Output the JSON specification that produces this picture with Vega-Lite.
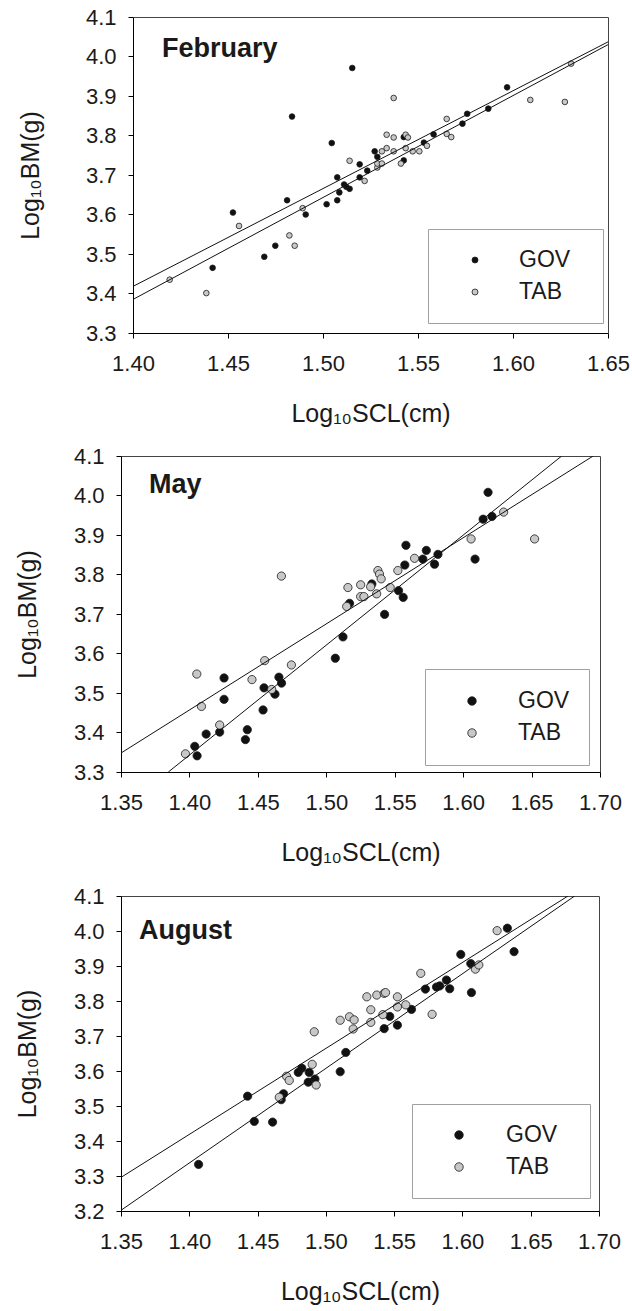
{
  "$schema": "https://vega.github.io/schema/vega-lite/v6.json",
  "padding": {"left": 14, "top": 6, "right": 0, "bottom": 0},
  "background": "white",
  "config": {
    "font": "Liberation Sans",
    "view": {"stroke": "#444444", "strokeWidth": 1},
    "axis": {"grid": false, "domainColor": "#000000", "tickColor": "#000000", "tickSize": 5, "labelFont": "Liberation Sans", "labelFontSize": 22, "labelColor": "#1a1a1a", "titleFont": "Liberation Sans", "titleFontSize": 25, "titleFontWeight": "normal", "titleColor": "#1a1a1a", "labelFlush": false, "labelOverlap": false, "labelBound": false, "tickCount": 30},
    "axisX": {"labelPadding": 15, "titlePadding": 27},
    "axisY": {"labelPadding": 12, "titlePadding": 33},
    "legend": {"title": null, "orient": "none", "strokeColor": "#a0a0a0", "fillColor": "white", "padding": 19, "symbolType": "circle", "symbolStrokeColor": "#1a1a1a", "symbolStrokeWidth": 0.8, "labelFont": "Liberation Sans", "labelFontSize": 23, "labelColor": "#1a1a1a", "clipHeight": 26, "rowPadding": 6}
  },
  "datasets": {
    "feb": [
      {"scl": 1.4419, "bm": 3.465, "group": "GOV"}, {"scl": 1.4526, "bm": 3.605, "group": "GOV"}, {"scl": 1.4691, "bm": 3.493, "group": "GOV"}, {"scl": 1.4749, "bm": 3.521, "group": "GOV"}, {"scl": 1.4811, "bm": 3.636, "group": "GOV"}, {"scl": 1.4837, "bm": 3.848, "group": "GOV"}, {"scl": 1.4909, "bm": 3.600, "group": "GOV"}, {"scl": 1.5019, "bm": 3.626, "group": "GOV"}, {"scl": 1.5046, "bm": 3.781, "group": "GOV"}, {"scl": 1.5075, "bm": 3.694, "group": "GOV"}, {"scl": 1.5075, "bm": 3.636, "group": "GOV"}, {"scl": 1.5086, "bm": 3.656, "group": "GOV"}, {"scl": 1.5111, "bm": 3.676, "group": "GOV"}, {"scl": 1.5123, "bm": 3.670, "group": "GOV"}, {"scl": 1.5140, "bm": 3.665, "group": "GOV"}, {"scl": 1.5154, "bm": 3.971, "group": "GOV"}, {"scl": 1.5193, "bm": 3.727, "group": "GOV"}, {"scl": 1.5193, "bm": 3.694, "group": "GOV"}, {"scl": 1.5233, "bm": 3.711, "group": "GOV"}, {"scl": 1.5272, "bm": 3.760, "group": "GOV"}, {"scl": 1.5286, "bm": 3.746, "group": "GOV"}, {"scl": 1.5425, "bm": 3.796, "group": "GOV"}, {"scl": 1.5425, "bm": 3.737, "group": "GOV"}, {"scl": 1.5531, "bm": 3.782, "group": "GOV"}, {"scl": 1.5582, "bm": 3.803, "group": "GOV"}, {"scl": 1.5734, "bm": 3.830, "group": "GOV"}, {"scl": 1.5759, "bm": 3.855, "group": "GOV"}, {"scl": 1.5870, "bm": 3.868, "group": "GOV"}, {"scl": 1.5969, "bm": 3.922, "group": "GOV"},
      {"scl": 1.4193, "bm": 3.435, "group": "TAB"}, {"scl": 1.4386, "bm": 3.401, "group": "TAB"}, {"scl": 1.4558, "bm": 3.571, "group": "TAB"}, {"scl": 1.4823, "bm": 3.547, "group": "TAB"}, {"scl": 1.4851, "bm": 3.521, "group": "TAB"}, {"scl": 1.4893, "bm": 3.616, "group": "TAB"}, {"scl": 1.5140, "bm": 3.736, "group": "TAB"}, {"scl": 1.5219, "bm": 3.685, "group": "TAB"}, {"scl": 1.5286, "bm": 3.719, "group": "TAB"}, {"scl": 1.5286, "bm": 3.729, "group": "TAB"}, {"scl": 1.5310, "bm": 3.760, "group": "TAB"}, {"scl": 1.5310, "bm": 3.729, "group": "TAB"}, {"scl": 1.5335, "bm": 3.802, "group": "TAB"}, {"scl": 1.5335, "bm": 3.768, "group": "TAB"}, {"scl": 1.5372, "bm": 3.895, "group": "TAB"}, {"scl": 1.5372, "bm": 3.795, "group": "TAB"}, {"scl": 1.5372, "bm": 3.760, "group": "TAB"}, {"scl": 1.5410, "bm": 3.729, "group": "TAB"}, {"scl": 1.5435, "bm": 3.802, "group": "TAB"}, {"scl": 1.5447, "bm": 3.795, "group": "TAB"}, {"scl": 1.5435, "bm": 3.768, "group": "TAB"}, {"scl": 1.5472, "bm": 3.760, "group": "TAB"}, {"scl": 1.5507, "bm": 3.760, "group": "TAB"}, {"scl": 1.5547, "bm": 3.774, "group": "TAB"}, {"scl": 1.5651, "bm": 3.842, "group": "TAB"}, {"scl": 1.5651, "bm": 3.804, "group": "TAB"}, {"scl": 1.5675, "bm": 3.796, "group": "TAB"}, {"scl": 1.6091, "bm": 3.890, "group": "TAB"}, {"scl": 1.6273, "bm": 3.885, "group": "TAB"}, {"scl": 1.6306, "bm": 3.982, "group": "TAB"}
    ],
    "febFit": [
      {"scl": 1.40, "bm": 3.418, "group": "GOV"}, {"scl": 1.65, "bm": 4.037, "group": "GOV"},
      {"scl": 1.40, "bm": 3.385, "group": "TAB"}, {"scl": 1.65, "bm": 4.030, "group": "TAB"}
    ],
    "may": [
      {"scl": 1.4039, "bm": 3.365, "group": "GOV"}, {"scl": 1.4056, "bm": 3.341, "group": "GOV"}, {"scl": 1.4122, "bm": 3.396, "group": "GOV"}, {"scl": 1.4221, "bm": 3.401, "group": "GOV"}, {"scl": 1.4253, "bm": 3.538, "group": "GOV"}, {"scl": 1.4253, "bm": 3.484, "group": "GOV"}, {"scl": 1.4409, "bm": 3.382, "group": "GOV"}, {"scl": 1.4423, "bm": 3.407, "group": "GOV"}, {"scl": 1.4538, "bm": 3.457, "group": "GOV"}, {"scl": 1.4545, "bm": 3.513, "group": "GOV"}, {"scl": 1.4625, "bm": 3.497, "group": "GOV"}, {"scl": 1.4654, "bm": 3.540, "group": "GOV"}, {"scl": 1.4673, "bm": 3.525, "group": "GOV"}, {"scl": 1.5066, "bm": 3.588, "group": "GOV"}, {"scl": 1.5122, "bm": 3.642, "group": "GOV"}, {"scl": 1.5170, "bm": 3.727, "group": "GOV"}, {"scl": 1.5333, "bm": 3.776, "group": "GOV"}, {"scl": 1.5426, "bm": 3.699, "group": "GOV"}, {"scl": 1.5528, "bm": 3.759, "group": "GOV"}, {"scl": 1.5562, "bm": 3.742, "group": "GOV"}, {"scl": 1.5574, "bm": 3.824, "group": "GOV"}, {"scl": 1.5582, "bm": 3.874, "group": "GOV"}, {"scl": 1.5706, "bm": 3.839, "group": "GOV"}, {"scl": 1.5731, "bm": 3.861, "group": "GOV"}, {"scl": 1.5791, "bm": 3.826, "group": "GOV"}, {"scl": 1.5816, "bm": 3.851, "group": "GOV"}, {"scl": 1.6087, "bm": 3.839, "group": "GOV"}, {"scl": 1.6146, "bm": 3.940, "group": "GOV"}, {"scl": 1.6182, "bm": 4.008, "group": "GOV"}, {"scl": 1.6211, "bm": 3.947, "group": "GOV"},
      {"scl": 1.3971, "bm": 3.346, "group": "TAB"}, {"scl": 1.4054, "bm": 3.548, "group": "TAB"}, {"scl": 1.4088, "bm": 3.466, "group": "TAB"}, {"scl": 1.4221, "bm": 3.419, "group": "TAB"}, {"scl": 1.4457, "bm": 3.534, "group": "TAB"}, {"scl": 1.4550, "bm": 3.582, "group": "TAB"}, {"scl": 1.4601, "bm": 3.509, "group": "TAB"}, {"scl": 1.4672, "bm": 3.796, "group": "TAB"}, {"scl": 1.4745, "bm": 3.571, "group": "TAB"}, {"scl": 1.5149, "bm": 3.719, "group": "TAB"}, {"scl": 1.5158, "bm": 3.767, "group": "TAB"}, {"scl": 1.5251, "bm": 3.774, "group": "TAB"}, {"scl": 1.5251, "bm": 3.744, "group": "TAB"}, {"scl": 1.5275, "bm": 3.744, "group": "TAB"}, {"scl": 1.5324, "bm": 3.769, "group": "TAB"}, {"scl": 1.5368, "bm": 3.751, "group": "TAB"}, {"scl": 1.5377, "bm": 3.810, "group": "TAB"}, {"scl": 1.5389, "bm": 3.801, "group": "TAB"}, {"scl": 1.5401, "bm": 3.789, "group": "TAB"}, {"scl": 1.5467, "bm": 3.767, "group": "TAB"}, {"scl": 1.5523, "bm": 3.810, "group": "TAB"}, {"scl": 1.5645, "bm": 3.841, "group": "TAB"}, {"scl": 1.6058, "bm": 3.890, "group": "TAB"}, {"scl": 1.6296, "bm": 3.958, "group": "TAB"}, {"scl": 1.6522, "bm": 3.890, "group": "TAB"}
    ],
    "mayFit": [
      {"scl": 1.3846, "bm": 3.300, "group": "GOV"}, {"scl": 1.6720, "bm": 4.100, "group": "GOV"},
      {"scl": 1.3500, "bm": 3.348, "group": "TAB"}, {"scl": 1.6950, "bm": 4.100, "group": "TAB"}
    ],
    "aug": [
      {"scl": 1.4068, "bm": 3.333, "group": "GOV"}, {"scl": 1.4427, "bm": 3.528, "group": "GOV"}, {"scl": 1.4476, "bm": 3.456, "group": "GOV"}, {"scl": 1.4610, "bm": 3.454, "group": "GOV"}, {"scl": 1.4673, "bm": 3.518, "group": "GOV"}, {"scl": 1.4690, "bm": 3.535, "group": "GOV"}, {"scl": 1.4798, "bm": 3.596, "group": "GOV"}, {"scl": 1.4824, "bm": 3.608, "group": "GOV"}, {"scl": 1.4878, "bm": 3.596, "group": "GOV"}, {"scl": 1.4871, "bm": 3.568, "group": "GOV"}, {"scl": 1.4920, "bm": 3.577, "group": "GOV"}, {"scl": 1.5105, "bm": 3.598, "group": "GOV"}, {"scl": 1.5146, "bm": 3.653, "group": "GOV"}, {"scl": 1.5427, "bm": 3.721, "group": "GOV"}, {"scl": 1.5468, "bm": 3.756, "group": "GOV"}, {"scl": 1.5524, "bm": 3.731, "group": "GOV"}, {"scl": 1.5627, "bm": 3.776, "group": "GOV"}, {"scl": 1.5729, "bm": 3.834, "group": "GOV"}, {"scl": 1.5810, "bm": 3.840, "group": "GOV"}, {"scl": 1.5834, "bm": 3.843, "group": "GOV"}, {"scl": 1.5883, "bm": 3.860, "group": "GOV"}, {"scl": 1.5907, "bm": 3.835, "group": "GOV"}, {"scl": 1.5988, "bm": 3.933, "group": "GOV"}, {"scl": 1.6061, "bm": 3.907, "group": "GOV"}, {"scl": 1.6066, "bm": 3.824, "group": "GOV"}, {"scl": 1.6329, "bm": 4.008, "group": "GOV"}, {"scl": 1.6378, "bm": 3.941, "group": "GOV"},
      {"scl": 1.4659, "bm": 3.525, "group": "TAB"}, {"scl": 1.4712, "bm": 3.585, "group": "TAB"}, {"scl": 1.4732, "bm": 3.573, "group": "TAB"}, {"scl": 1.4900, "bm": 3.619, "group": "TAB"}, {"scl": 1.4929, "bm": 3.560, "group": "TAB"}, {"scl": 1.4915, "bm": 3.712, "group": "TAB"}, {"scl": 1.5105, "bm": 3.745, "group": "TAB"}, {"scl": 1.5173, "bm": 3.755, "group": "TAB"}, {"scl": 1.5207, "bm": 3.746, "group": "TAB"}, {"scl": 1.5200, "bm": 3.720, "group": "TAB"}, {"scl": 1.5300, "bm": 3.812, "group": "TAB"}, {"scl": 1.5329, "bm": 3.775, "group": "TAB"}, {"scl": 1.5329, "bm": 3.739, "group": "TAB"}, {"scl": 1.5373, "bm": 3.817, "group": "TAB"}, {"scl": 1.5427, "bm": 3.822, "group": "TAB"}, {"scl": 1.5437, "bm": 3.824, "group": "TAB"}, {"scl": 1.5417, "bm": 3.761, "group": "TAB"}, {"scl": 1.5524, "bm": 3.812, "group": "TAB"}, {"scl": 1.5524, "bm": 3.783, "group": "TAB"}, {"scl": 1.5585, "bm": 3.789, "group": "TAB"}, {"scl": 1.5695, "bm": 3.879, "group": "TAB"}, {"scl": 1.5778, "bm": 3.762, "group": "TAB"}, {"scl": 1.6095, "bm": 3.891, "group": "TAB"}, {"scl": 1.6120, "bm": 3.903, "group": "TAB"}, {"scl": 1.6254, "bm": 4.001, "group": "TAB"}
    ],
    "augFit": [
      {"scl": 1.3500, "bm": 3.202, "group": "GOV"}, {"scl": 1.6822, "bm": 4.100, "group": "GOV"},
      {"scl": 1.3500, "bm": 3.296, "group": "TAB"}, {"scl": 1.6773, "bm": 4.100, "group": "TAB"}
    ]
  },
  "concat": [
    {
      "width": 487, "height": 316,
      "view": {"stroke": null},
      "resolve": {"axis": {"x": "independent", "y": "independent"}},
      "layer": [
        {
          "data": {"name": "feb"},
          "mark": {"type": "circle", "stroke": "#1a1a1a", "strokeWidth": 0.8, "opacity": 1, "size": 32},
          "encoding": {
            "x": {"field": "scl", "type": "quantitative", "scale": {"domain": [1.40, 1.65], "range": [12, 487], "nice": false, "zero": false}, "axis": {"values": [1.40, 1.45, 1.50, 1.55, 1.60, 1.65], "format": ".2f", "title": "Log₁₀SCL(cm)", "labelOverlap": false}},
            "y": {"field": "bm", "type": "quantitative", "scale": {"domain": [3.3, 4.1], "nice": false, "zero": false}, "axis": {"values": [3.3, 3.4, 3.5, 3.6, 3.7, 3.8, 3.9, 4.0, 4.1], "format": ".1f", "title": "Log₁₀BM(g)", "titlePadding": 42, "offset": -12, "labelOverlap": false, "tickCount": 30}},
            "fill": {"field": "group", "type": "nominal", "scale": {"domain": ["GOV", "TAB"], "range": ["#111111", "#c8c8c8"]}, "legend": {"legendX": 307, "legendY": 212, "symbolSize": 36, "padding": 15, "clipHeight": 32, "rowPadding": 0, "symbolOffset": 20.5, "labelOffset": 32.5, "labelExpr": "datum.label + '⠀'"}}
          }
        },
        {
          "data": {"name": "febFit"},
          "mark": {"type": "line", "color": "#111111", "strokeWidth": 1, "clip": true},
          "encoding": {
            "x": {"field": "scl", "type": "quantitative", "axis": {"orient": "top", "labels": false, "ticks": false, "title": null, "domainColor": "#444444"}},
            "y": {"field": "bm", "type": "quantitative", "axis": {"orient": "right", "labels": false, "ticks": false, "title": null, "domainColor": "#444444"}},
            "detail": {"field": "group", "type": "nominal"}
          }
        },
        {
          "data": {"values": [{"label": "February"}]},
          "mark": {"type": "text", "font": "Liberation Sans", "fontWeight": "bold", "fontSize": 27, "align": "left", "baseline": "alphabetic", "color": "#1a1a1a"},
          "encoding": {
            "x": {"datum": 1.4153, "type": "quantitative", "axis": null},
            "y": {"datum": 3.9987, "type": "quantitative", "axis": null},
            "text": {"field": "label"}
          }
        }
      ]
    },
    {
      "width": 479, "height": 316,
      "layer": [
        {
          "data": {"name": "may"},
          "mark": {"type": "circle", "stroke": "#1a1a1a", "strokeWidth": 0.8, "opacity": 1, "size": 68},
          "encoding": {
            "x": {"field": "scl", "type": "quantitative", "scale": {"domain": [1.35, 1.70], "nice": false, "zero": false}, "axis": {"values": [1.35, 1.40, 1.45, 1.50, 1.55, 1.60, 1.65, 1.70], "format": ".2f", "title": "Log₁₀SCL(cm)", "labelOverlap": false}},
            "y": {"field": "bm", "type": "quantitative", "scale": {"domain": [3.3, 4.1], "nice": false, "zero": false}, "axis": {"values": [3.3, 3.4, 3.5, 3.6, 3.7, 3.8, 3.9, 4.0, 4.1], "format": ".1f", "title": "Log₁₀BM(g)", "labelOverlap": false, "tickCount": 30}},
            "fill": {"field": "group", "type": "nominal", "scale": {"domain": ["GOV", "TAB"], "range": ["#111111", "#c8c8c8"]}, "legend": {"legendX": 304, "legendY": 213, "symbolSize": 72, "symbolOffset": 16.5, "labelOffset": 34.5}}
          }
        },
        {
          "data": {"name": "mayFit"},
          "mark": {"type": "line", "color": "#111111", "strokeWidth": 1, "clip": true},
          "encoding": {
            "x": {"field": "scl", "type": "quantitative"},
            "y": {"field": "bm", "type": "quantitative"},
            "detail": {"field": "group", "type": "nominal"}
          }
        },
        {
          "data": {"values": [{"label": "May"}]},
          "mark": {"type": "text", "font": "Liberation Sans", "fontWeight": "bold", "fontSize": 27, "align": "left", "baseline": "alphabetic", "color": "#1a1a1a"},
          "encoding": {
            "x": {"datum": 1.3705, "type": "quantitative"},
            "y": {"datum": 4.0063, "type": "quantitative"},
            "text": {"field": "label"}
          }
        }
      ]
    },
    {
      "width": 478, "height": 315,
      "layer": [
        {
          "data": {"name": "aug"},
          "mark": {"type": "circle", "stroke": "#1a1a1a", "strokeWidth": 0.8, "opacity": 1, "size": 68},
          "encoding": {
            "x": {"field": "scl", "type": "quantitative", "scale": {"domain": [1.35, 1.70], "nice": false, "zero": false}, "axis": {"values": [1.35, 1.40, 1.45, 1.50, 1.55, 1.60, 1.65, 1.70], "format": ".2f", "title": "Log₁₀SCL(cm)", "labelOverlap": false}},
            "y": {"field": "bm", "type": "quantitative", "scale": {"domain": [3.2, 4.1], "nice": false, "zero": false}, "axis": {"values": [3.2, 3.3, 3.4, 3.5, 3.6, 3.7, 3.8, 3.9, 4.0, 4.1], "format": ".1f", "title": "Log₁₀BM(g)", "labelOverlap": false, "tickCount": 30}},
            "fill": {"field": "group", "type": "nominal", "scale": {"domain": ["GOV", "TAB"], "range": ["#111111", "#c8c8c8"]}, "legend": {"legendX": 291, "legendY": 208, "symbolSize": 72, "padding": 15, "clipHeight": 32, "rowPadding": 0, "symbolOffset": 20.5, "labelOffset": 35.5, "labelExpr": "datum.label + '⠀'"}}
          }
        },
        {
          "data": {"name": "augFit"},
          "mark": {"type": "line", "color": "#111111", "strokeWidth": 1, "clip": true},
          "encoding": {
            "x": {"field": "scl", "type": "quantitative"},
            "y": {"field": "bm", "type": "quantitative"},
            "detail": {"field": "group", "type": "nominal"}
          }
        },
        {
          "data": {"values": [{"label": "August"}]},
          "mark": {"type": "text", "font": "Liberation Sans", "fontWeight": "bold", "fontSize": 27, "align": "left", "baseline": "alphabetic", "color": "#1a1a1a"},
          "encoding": {
            "x": {"datum": 1.3632, "type": "quantitative"},
            "y": {"datum": 3.9783, "type": "quantitative"},
            "text": {"field": "label"}
          }
        }
      ]
    }
  ],
  "columns": 1,
  "spacing": 18,
  "resolve": {"scale": {"fill": "independent", "x": "independent", "y": "independent"}, "legend": {"fill": "independent"}}
}
